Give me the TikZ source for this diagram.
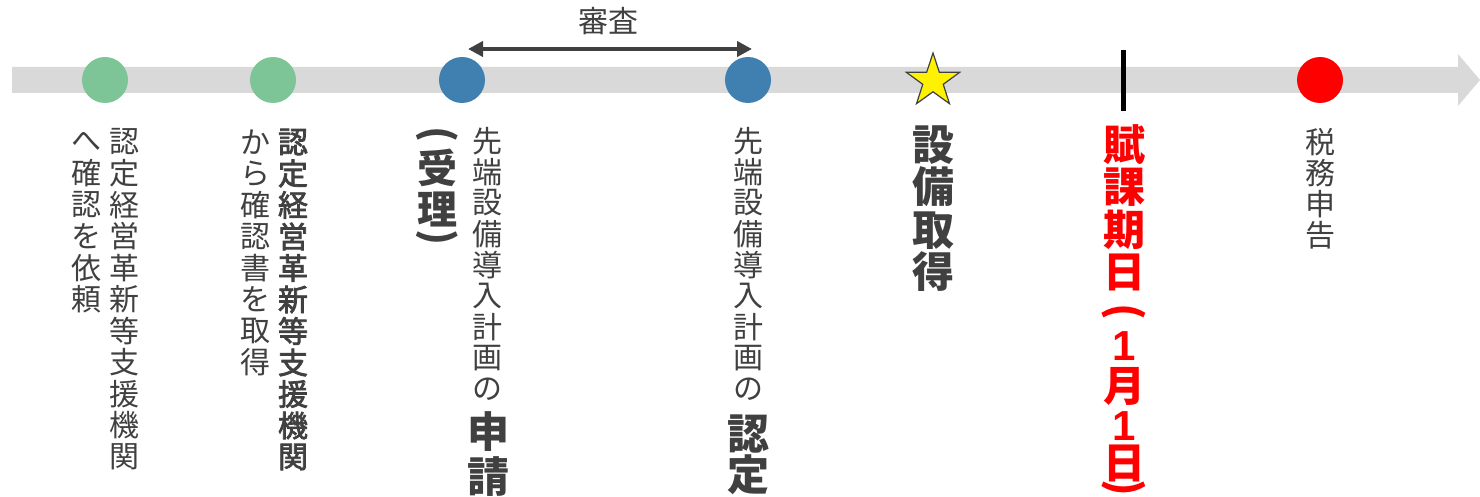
\documentclass[tikz,border=0pt]{standalone}
\usepackage{fontspec}
\usepackage{graphicx}
\usetikzlibrary{shapes.geometric,arrows.meta}
\newfontfamily\jp{Noto Sans CJK JP}
\newfontfamily\jpmed[FakeBold=2.5]{Noto Sans CJK JP}
\newfontfamily\lat{Liberation Sans}
\definecolor{txt}{HTML}{404040}
\definecolor{bandgray}{HTML}{D9D9D9}
\definecolor{cgreen}{HTML}{7DC597}
\definecolor{cblue}{HTML}{3F80B1}
\definecolor{cred}{HTML}{FF0000}
\newcommand\vlp{\rotatebox[origin=c]{-90}{(}}
\newcommand\vrp{\rotatebox[origin=c]{-90}{)}}
\newcommand\one{{\lat\bfseries\fontsize{42}{42}\selectfont 1}}
\newcommand\vcol[6]{%
  \foreach \c [count=\i from 0] in {#6} {\node[#5] (#1\i) at (#2, {#3+\i*#4}) {\c};}}
\begin{document}
\begin{tikzpicture}[x=1pt,y=-1pt,
  reg/.style={font=\jp\fontsize{30}{30}\selectfont, text=txt, inner sep=0pt},
  regb/.style={font=\jpmed\fontsize{30}{30}\selectfont, text=txt, inner sep=0pt},
  big/.style={font=\jp\bfseries\fontsize{42}{42}\selectfont, text=txt, inner sep=0pt},
  bigp/.style={font=\jp\bfseries\fontsize{40}{40}\selectfont, text=txt, inner sep=0pt},
  bigred/.style={font=\jp\bfseries\fontsize{42}{42}\selectfont, text=cred, inner sep=0pt},
  dot/.style={circle, minimum size=46pt, inner sep=0pt, draw=none}]
\useasboundingbox (0,0) rectangle (1480,497);
% timeline band
\fill[bandgray] (12,67) -- (1458,67) -- (1458,54) -- (1480,80) -- (1458,106) -- (1458,93) -- (12,93) -- cycle;
% markers
\node[dot, fill=cgreen] (g1) at (105,80) {};
\node[dot, fill=cgreen] (g2) at (273,80) {};
\node[dot, fill=cblue] (b1) at (462,80) {};
\node[dot, fill=cblue] (b2) at (748,80) {};
\node[star, star points=5, star point ratio=2.6, minimum size=56pt, inner sep=0pt,
      fill=yellow, draw=txt, line width=1.2pt] (st) at (933,81) {};
\coordinate (tT) at (1123,50);
\coordinate (tB) at (1123,111);
\draw[black, line width=5pt] (tT) -- (tB);
\node[dot, fill=cred] (r1) at (1320,80) {};
% review arrow
\coordinate (sL) at (468,49);
\coordinate (sR) at (752,49);
\draw[txt, line width=4pt, {Triangle[length=15pt,width=15pt]}-{Triangle[length=15pt,width=15pt]}] (sL) -- (sR);
\node[reg] (shinsa) at (608,21) {審査};
% label 1
\vcol{la}{124}{142}{31.5}{reg}{認,定,経,営,革,新,等,支,援,機,関}
\vcol{lb}{86}{142}{31.5}{reg}{へ,確,認,を,依,頼}
% label 2
\vcol{lc}{293}{142}{31.5}{regb}{認,定,経,営,革,新,等,支,援,機,関}
\vcol{ld}{255}{142}{31.5}{reg}{か,ら,確,認,書,を,取,得}
% label 3
\vcol{le}{487}{141}{31}{reg}{先,端,設,備,導,入,計,画,の}
\node[big] (le9) at (488,432) {申};
\node[big] (le10) at (488,477) {請};
\foreach \y/\c [count=\i] in {137/\vlp, 168/受, 209/理, 240/\vrp} {\node[bigp] (lf\i) at (437,\y) {\c};}
% label 4
\vcol{lg}{748}{141}{31}{reg}{先,端,設,備,導,入,計,画,の}
\node[big] (lg9) at (748,434) {認};
\node[big] (lg10) at (748,475) {定};
% label 5
\foreach \y/\c [count=\i] in {145/設, 187/備, 231/取, 272/得} {\node[big] (lh\i) at (933,\y) {\c};}
% label 6
\foreach \y/\c [count=\i] in {145/賦, 187/課, 230/期, 272/日, 314/\vlp, 346/\one, 386/月, 426/\one, 463/日, 490/\vrp}
  {\node[bigred] (li\i) at (1124,\y) {\c};}
% label 7
\vcol{lj}{1320}{142}{31}{reg}{税,務,申,告}
\end{tikzpicture}
\end{document}
